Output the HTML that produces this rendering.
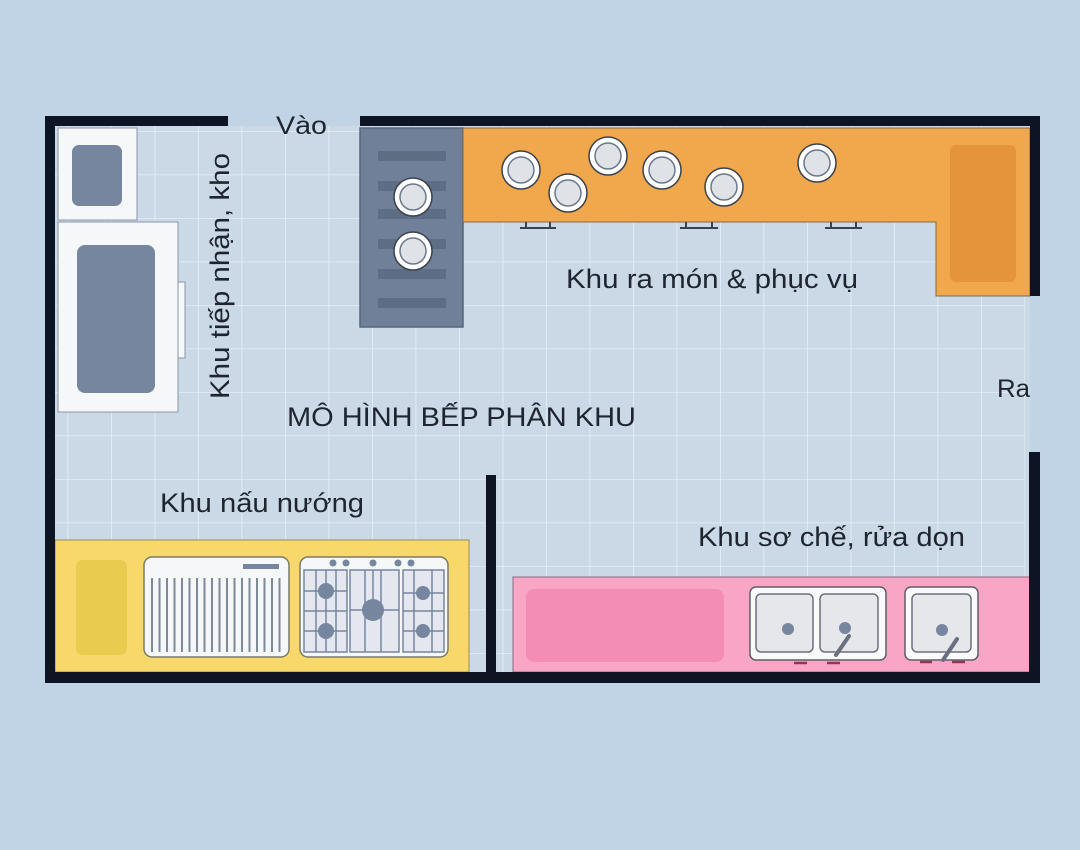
<!DOCTYPE html>
<html><head><meta charset="utf-8"><style>
html,body{margin:0;padding:0;background:#c1d4e5;}
svg{display:block;}
text{font-family:"Liberation Sans",sans-serif;fill:#1e2530;}
</style></head><body>
<svg width="1080" height="850" viewBox="0 0 1080 850" xmlns="http://www.w3.org/2000/svg">
<defs>
<pattern id="g" x="24" y="0.5" width="43.5" height="43.5" patternUnits="userSpaceOnUse">
<path d="M0 0V43.5M0 0H43.5" stroke="#e6eef6" stroke-width="1.6" fill="none"/>
</pattern>
</defs>
<rect width="1080" height="850" fill="#c1d4e5"/>
<rect x="55" y="126" width="975" height="546" fill="#cbd9e6"/>
<rect x="55" y="126" width="970" height="546" fill="url(#g)"/>

<!-- left units -->
<rect x="58" y="128" width="79" height="92" fill="#f6f7f9" stroke="#8a96a8" stroke-width="1"/>
<rect x="72" y="145" width="50" height="61" rx="7" fill="#76869f"/>
<rect x="58" y="222" width="120" height="190" fill="#f6f7f9" stroke="#8a96a8" stroke-width="1"/>
<rect x="77" y="245" width="78" height="148" rx="8" fill="#76869f"/>
<rect x="178" y="282" width="7" height="76" fill="#f6f7f9" stroke="#8a96a8" stroke-width="1"/>

<!-- slate island -->
<rect x="360" y="128" width="103" height="199" fill="#6f8098" stroke="#57667c" stroke-width="1.5"/>
<g fill="#5d6d84">
<rect x="378" y="151" width="68" height="10"/><rect x="378" y="181" width="68" height="10"/>
<rect x="378" y="209" width="68" height="10"/><rect x="378" y="239" width="68" height="10"/>
<rect x="378" y="269" width="68" height="10"/><rect x="378" y="298" width="68" height="10"/>
</g>

<!-- orange counter -->
<path d="M463 128H1030V296H936V222H463Z" fill="#f1a84c" stroke="#7a6a55" stroke-width="1"/>
<rect x="950" y="145" width="66" height="137" rx="6" fill="#e5943c"/>
<g stroke="#39424e" stroke-width="2">
<path d="M520 228H556M526 222V228M550 222V228"/>
<path d="M680 228H718M686 222V228M712 222V228"/>
<path d="M825 228H862M831 222V228M856 222V228"/>
</g>
<g fill="#fff" stroke="#39424e" stroke-width="1.5">
<circle cx="413" cy="197" r="19"/><circle cx="413" cy="251" r="19"/>
<circle cx="521" cy="170" r="19"/><circle cx="568" cy="193" r="19"/><circle cx="608" cy="156" r="19"/>
<circle cx="662" cy="170" r="19"/><circle cx="724" cy="187" r="19"/><circle cx="817" cy="163" r="19"/>
</g>
<g fill="#dfe3e8" stroke="#6b7788" stroke-width="1.5">
<circle cx="413" cy="197" r="13"/><circle cx="413" cy="251" r="13"/>
<circle cx="521" cy="170" r="13"/><circle cx="568" cy="193" r="13"/><circle cx="608" cy="156" r="13"/>
<circle cx="662" cy="170" r="13"/><circle cx="724" cy="187" r="13"/><circle cx="817" cy="163" r="13"/>
</g>

<!-- yellow counter -->
<rect x="55" y="540" width="414" height="132" fill="#f8d86a" stroke="#9a8a50" stroke-width="1"/>
<rect x="76" y="560" width="51" height="95" rx="7" fill="#e9cb50"/>
<rect x="144" y="557" width="145" height="100" rx="8" fill="#f6f7f9" stroke="#7a7a6a" stroke-width="1.5"/>
<rect x="243" y="564" width="36" height="5" fill="#76869f"/>
<g stroke="#7f8a98" stroke-width="2">
<path d="M152 578V652M159.5 578V652M167 578V652M174.5 578V652M182 578V652M189.5 578V652M197 578V652M204.5 578V652M212 578V652M219.5 578V652M227 578V652M234.5 578V652M242 578V652M249.5 578V652M257 578V652M264.5 578V652M272 578V652M279.5 578V652"/>
</g>
<rect x="300" y="557" width="148" height="100" rx="8" fill="#f6f7f9" stroke="#7a7a6a" stroke-width="1.5"/>
<g fill="#76869f"><circle cx="333" cy="563" r="3.5"/><circle cx="346" cy="563" r="3.5"/><circle cx="373" cy="563" r="3.5"/><circle cx="398" cy="563" r="3.5"/><circle cx="411" cy="563" r="3.5"/></g>
<g fill="#e4e8ee" stroke="#76869f" stroke-width="1.5">
<rect x="304" y="570" width="43" height="82"/><rect x="350" y="570" width="49" height="82"/><rect x="403" y="570" width="41" height="82"/>
</g>
<g stroke="#76869f" stroke-width="1.5" fill="none">
<path d="M304 591H347M304 611H347M304 631H347M326 570V652M316 570V652M336 570V652"/>
<path d="M350 610H399M365 570V652M381 570V652M373 570V600"/>
<path d="M403 593H444M403 611H444M403 631H444M414 570V652M432 570V652"/>
</g>
<g fill="#76869f"><circle cx="326" cy="591" r="8"/><circle cx="326" cy="631" r="8"/><circle cx="373" cy="610" r="11"/><circle cx="423" cy="593" r="7"/><circle cx="423" cy="631" r="7"/></g>

<!-- pink counter -->
<rect x="513" y="577" width="517" height="95" fill="#f9a6c6" stroke="#8a6a7a" stroke-width="1"/>
<rect x="526" y="589" width="198" height="73" rx="8" fill="#f38db5"/>
<rect x="750" y="587" width="136" height="73" rx="6" fill="#fafafa" stroke="#5e5e66" stroke-width="1.5"/>
<rect x="756" y="594" width="57" height="58" rx="5" fill="#e5e7ea" stroke="#6b7080" stroke-width="1.5"/>
<rect x="820" y="594" width="58" height="58" rx="5" fill="#e5e7ea" stroke="#6b7080" stroke-width="1.5"/>
<rect x="905" y="587" width="73" height="73" rx="6" fill="#fafafa" stroke="#5e5e66" stroke-width="1.5"/>
<rect x="912" y="594" width="59" height="58" rx="5" fill="#e5e7ea" stroke="#6b7080" stroke-width="1.5"/>
<g fill="#76869f"><circle cx="788" cy="629" r="6"/><circle cx="845" cy="628" r="6"/><circle cx="942" cy="630" r="6"/></g>
<g stroke="#6b7080" stroke-width="4" stroke-linecap="round"><path d="M836 655L849 636"/><path d="M943 660L957 639"/></g>
<g stroke="#8a3a55" stroke-width="2.5"><path d="M794 663H807M827 663H840M920 662H932M952 662H965"/></g>

<!-- walls -->
<g fill="#0d1423">
<rect x="45" y="116" width="183" height="10"/>
<rect x="360" y="116" width="680" height="10"/>
<rect x="45" y="116" width="10" height="567"/>
<rect x="45" y="672" width="995" height="11"/>
<rect x="1030" y="116" width="10" height="180"/>
<rect x="1029" y="452" width="11" height="231"/>
<rect x="486" y="475" width="10" height="197"/>
</g>

<!-- labels -->
<text x="276" y="134" font-size="25" textLength="51" lengthAdjust="spacingAndGlyphs">Vào</text>
<text x="0" y="0" font-size="27" textLength="246" lengthAdjust="spacingAndGlyphs" transform="translate(229,399) rotate(-90)">Khu tiếp nhận, kho</text>
<text x="566" y="288" font-size="27" textLength="292" lengthAdjust="spacingAndGlyphs">Khu ra món &amp; phục vụ</text>
<text x="287" y="426" font-size="27" textLength="349" lengthAdjust="spacingAndGlyphs">MÔ HÌNH BẾP PHÂN KHU</text>
<text x="160" y="512" font-size="27" textLength="204" lengthAdjust="spacingAndGlyphs">Khu nấu nướng</text>
<text x="698" y="546" font-size="27" textLength="267" lengthAdjust="spacingAndGlyphs">Khu sơ chế, rửa dọn</text>
<text x="997" y="397" font-size="25" textLength="33" lengthAdjust="spacingAndGlyphs">Ra</text>
</svg>
</body></html>
